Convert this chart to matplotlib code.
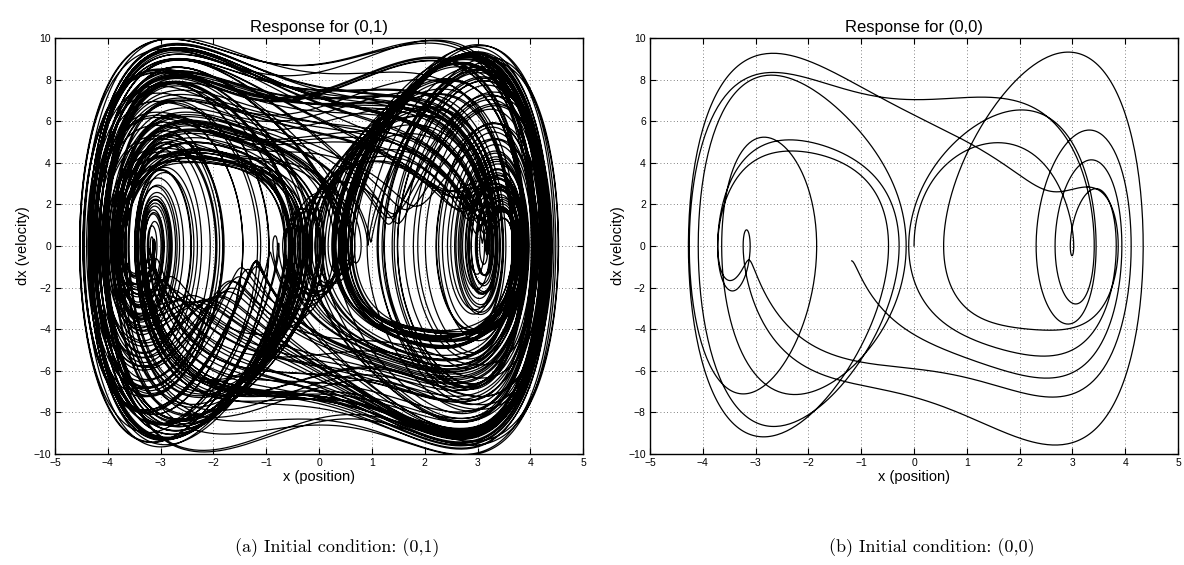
import numpy as np
import matplotlib
matplotlib.use("Agg")
import matplotlib.pyplot as plt

# Forced double-well (Duffing) oscillator:
#   x'' + delta*x' - alpha*x + beta*x^3 = gamma*cos(omega*t)
alpha = 12.96
beta = 1.44
delta = 1.08
gamma = 17.5
omega = 4.32

# initial conditions (x, dx) and simulated time span of the two runs
ic_a = [0.0, 1.0]
ic_b = [0.0, 0.0]
t_end = [400.0, 22.0]
titles = ["Response for (0,1)", "Response for (0,0)"]
captions = ["(a) Initial condition: (0,1)", "(b) Initial condition: (0,0)"]
xticks = [-5, -4, -3, -2, -1, 0, 1, 2, 3, 4, 5]
yticks = [-10, -8, -6, -4, -2, 0, 2, 4, 6, 8, 10]

dt = 0.005


def rhs(t, x, v):
    return v, -delta * v + alpha * x - beta * x**3 + gamma * np.cos(omega * t)


# integrate both runs together with RK4
n = int(max(t_end) / dt)
x = np.array([ic_a[0], ic_b[0]])
v = np.array([ic_a[1], ic_b[1]])
X = np.empty((n, 2))
V = np.empty((n, 2))
t = 0.0
for i in range(n):
    X[i] = x
    V[i] = v
    k1x, k1v = rhs(t, x, v)
    k2x, k2v = rhs(t + dt / 2, x + dt / 2 * k1x, v + dt / 2 * k1v)
    k3x, k3v = rhs(t + dt / 2, x + dt / 2 * k2x, v + dt / 2 * k2v)
    k4x, k4v = rhs(t + dt, x + dt * k3x, v + dt * k3v)
    x = x + dt / 6 * (k1x + 2 * k2x + 2 * k3x + k4x)
    v = v + dt / 6 * (k1v + 2 * k2v + 2 * k3v + k4v)
    t += dt

plt.rcParams["font.family"] = ["Liberation Sans", "DejaVu Sans"]
fig = plt.figure(figsize=(11.84, 5.65), dpi=100)
positions = [[0.0465, 0.1965, 0.446, 0.7363], [0.549, 0.1965, 0.446, 0.7363]]
cap_x = [0.285, 0.787]

for k in range(2):
    ax = fig.add_axes(positions[k])
    m = int(t_end[k] / dt)
    ax.plot(X[:m, k], V[:m, k], color="black", lw=0.9)
    ax.set_xlim(-5, 5)
    ax.set_ylim(-10, 10)
    ax.set_xticks(xticks)
    ax.set_yticks(yticks)
    ax.grid(True, linestyle=(0, (1, 3)), color="0.35", lw=0.6)
    ax.tick_params(direction="in", top=True, right=True, length=4,
                   labelsize=7.5, pad=3)
    for s in ax.spines.values():
        s.set_linewidth(1.0)
    ax.set_title(titles[k], fontsize=12, pad=4)
    ax.set_xlabel("x (position)", fontsize=10.5, labelpad=1)
    ax.set_ylabel("dx (velocity)", fontsize=10.5, labelpad=2)
    fig.text(cap_x[k], 0.03, captions[k], ha="center", va="center",
             fontsize=13, family="cmr10")

fig.savefig("out.png", dpi=100)
